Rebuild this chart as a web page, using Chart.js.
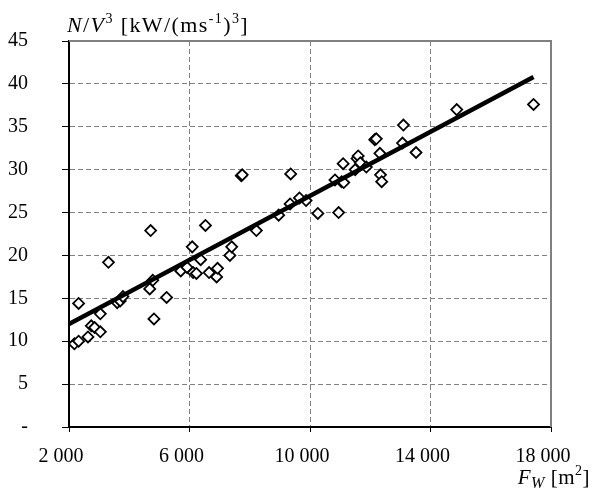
<!DOCTYPE html>
<html>
<head>
<meta charset="utf-8">
<script src="https://cdn.jsdelivr.net/npm/chart.js@4"></script>
<style>
  html, body { margin: 0; padding: 0; background: #fff; }
  #wrap { position: relative; width: 593px; height: 500px; }
  .ttl { position: absolute; font-family: 'Liberation Serif', 'Times New Roman', serif; color: #000; white-space: nowrap; line-height: 1; }
  .ttl sup { font-size: 14px; vertical-align: 0; position: relative; top: -9px; }
  .ttl sub { font-size: 16px; vertical-align: 0; position: relative; top: 4px; }
</style>
</head>
<body>
<div id="wrap">
  <canvas id="chart" width="593" height="500"></canvas>
  <div class="ttl" id="ytitle" style="left:67px; top:14px; font-size:22px; letter-spacing:1.4px;"><i>N</i>/<i>V</i><sup>3</sup> [kW/(ms<sup>-1</sup>)<sup>3</sup>]</div>
  <div class="ttl" id="xtitle" style="right:3px; top:467px; font-size:21px; letter-spacing:0.5px;"><i>F<sub>W</sub></i> [m<sup>2</sup>]</div>
</div>
<script>
// punkty pomiarowe
const areaFw = [2180, 2320, 2320, 2630, 2740, 2850, 3040, 3040, 3310, 3600, 3700, 3790,
  4680, 4710, 4780, 4820, 5240, 5710, 5920, 6090, 6120, 6230, 6370, 6530, 6650, 6900, 6930,
  7340, 7400, 7720, 7750, 8220, 8960, 9340, 9360, 9650, 9870, 10260, 10830, 10950, 11050,
  11100, 11120, 11500, 11560, 11600, 11670, 11870, 12150, 12200, 12320, 12340, 12380,
  13070, 13100, 13520, 14870, 17420];
const powerRatio = [9.7, 10.0, 14.4, 10.5, 11.8, 11.6, 11.1, 13.2, 19.2, 14.5, 14.7, 15.2,
  16.1, 22.9, 17.1, 12.6, 15.1, 18.2, 18.6, 21.0, 18.0, 17.9, 19.5, 23.5, 18.0, 17.5, 18.5,
  20.0, 21.0, 29.3, 29.4, 22.9, 24.7, 26.0, 29.5, 26.7, 26.4, 24.9, 28.8, 25.0, 28.6,
  30.7, 28.5, 30.0, 31.3, 31.6, 30.8, 30.3, 33.5, 33.6, 31.9, 29.4, 28.6,
  33.1, 35.2, 32.0, 37.0, 37.6];

// linia trendu
const trendX = [2000, 17420];
const trendY = [12.0, 40.8];

const xTicks = [2000, 6000, 10000, 14000, 18000];
const yTicks = [0, 5, 10, 15, 20, 25, 30, 35, 40, 45];

const FONT = { family: "'Liberation Serif', 'Times New Roman', serif", size: 20 };
const GRID = '#808080';

const frame = {
  id: 'frame',
  beforeDatasetsDraw(chart) {
    const { ctx, chartArea: a } = chart;
    ctx.save();
    ctx.strokeStyle = GRID;
    ctx.lineWidth = 2;
    ctx.beginPath();
    ctx.moveTo(a.left, a.top);
    ctx.lineTo(a.right, a.top);
    ctx.lineTo(a.right, a.bottom);
    ctx.stroke();
    ctx.restore();
  }
};

new Chart(document.getElementById('chart').getContext('2d'), {
  type: 'scatter',
  data: {
    datasets: [
      {
        data: trendX.map((x, i) => ({ x: x, y: trendY[i] })),
        showLine: true,
        borderColor: '#000',
        borderWidth: 4.5,
        pointRadius: 0,
        order: 0
      },
      {
        data: areaFw.map((x, i) => ({ x: x, y: powerRatio[i] })),
        pointStyle: 'rectRot',
        pointRadius: 5.5,
        pointBackgroundColor: '#fff',
        pointBorderColor: '#000',
        pointBorderWidth: 1.8,
        order: 1
      }
    ]
  },
  options: {
    responsive: false,
    animation: false,
    layout: { padding: { left: 8, top: 41, right: 42, bottom: 0 } },
    plugins: { legend: { display: false }, tooltip: { enabled: false } },
    scales: {
      x: {
        type: 'linear',
        min: 2000,
        max: 18000,
        afterBuildTicks: s => { s.ticks = xTicks.map(v => ({ value: v })); },
        afterFit: s => { s.height = 73; s.paddingLeft = 0; s.paddingRight = 0; },
        ticks: {
          color: '#000',
          font: FONT,
          padding: 13,
          labelOffset: -8,
          maxRotation: 0,
          callback: v => String(v).replace(/\B(?=(\d{3})+(?!\d))/g, ' ')
        },
        grid: {
          color: c => (c.tick && (c.tick.value === 2000 || c.tick.value === 18000)) ? 'rgba(0,0,0,0)' : GRID,
          lineWidth: 1,
          tickColor: '#000',
          tickLength: 5,
          tickWidth: 1
        },
        border: { color: '#000', width: 2, dash: [5, 3] }
      },
      y: {
        min: 0,
        max: 45,
        afterBuildTicks: s => { s.ticks = yTicks.map(v => ({ value: v })); },
        afterFit: s => { s.width = 61; s.paddingTop = 0; s.paddingBottom = 0; },
        ticks: {
          color: '#000',
          font: FONT,
          padding: 34,
          callback: v => v === 0 ? '-' : v
        },
        grid: {
          color: c => (c.tick && (c.tick.value === 0 || c.tick.value === 45)) ? 'rgba(0,0,0,0)' : GRID,
          lineWidth: 1,
          tickColor: '#000',
          tickLength: 7,
          tickWidth: 1
        },
        border: { color: '#000', width: 2, dash: [5, 3] }
      }
    }
  },
  plugins: [frame]
});
</script>
</body>
</html>
